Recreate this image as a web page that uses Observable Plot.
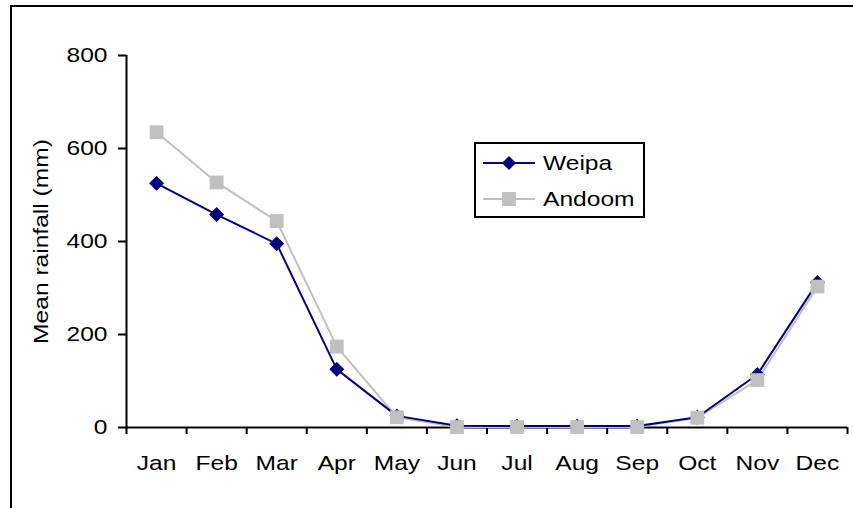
<!DOCTYPE html>
<html>
<head>
<meta charset="utf-8">
<script src="https://cdn.jsdelivr.net/npm/d3@7"></script>
<script src="https://cdn.jsdelivr.net/npm/@observablehq/plot@0.6"></script>
<style>
  html, body { margin: 0; padding: 0; background: #fff; }
  #wrap { position: relative; width: 853px; height: 508px; overflow: hidden; font-family: "Liberation Sans", Arial, sans-serif; }
  #frame { position: absolute; left: 10px; top: 5px; width: 900px; height: 600px; border-left: 2px solid #000; border-top: 2px solid #000; }
  #legend { position: absolute; left: 474px; top: 142px; width: 167px; height: 72px; border: 2px solid #000; background: #fff; }
  .row { position: absolute; left: 0; height: 24px; display: flex; align-items: center; }
  .row span { font-size: 21px; color: #000; margin-left: 0px; display: inline-block; transform: scaleX(1.17); transform-origin: left center; }
</style>
</head>
<body>
<div id="wrap">
  <div id="frame"></div>
  <div id="chart"></div>
  <div id="legend"></div>
</div>
<script>
const months = ["Jan","Feb","Mar","Apr","May","Jun","Jul","Aug","Sep","Oct","Nov","Dec"];
const weipa  = [525, 458, 395, 125, 25, 4, 3, 3, 3, 22, 114, 312];
const andoom = [635, 527, 444, 174, 22, 1, 1, 1, 1, 21, 102, 303];
const series = ["Weipa", "Andoom"];
const yTicks = [0, 200, 400, 600, 800];

const rows = [];
months.forEach((m, i) => {
  rows.push({month: m, i: i + 0.5, station: "Weipa", value: weipa[i]});
  rows.push({month: m, i: i + 0.5, station: "Andoom", value: andoom[i]});
});
const wRows = rows.filter(d => d.station === "Weipa");
const aRows = rows.filter(d => d.station === "Andoom");

const chart = Plot.plot({
  width: 853,
  height: 508,
  marginLeft: 126,
  marginRight: 6,
  marginTop: 55,
  marginBottom: 81,
  style: {fontFamily: "Liberation Sans, Arial, sans-serif", fontSize: "21px", background: "transparent", color: "#000"},
  x: {domain: [0, 12], range: [126, 847]},
  y: {domain: [0, 800]},
  marks: [
    Plot.axisY({ticks: yTicks, tickSize: 8, tickPadding: 11, strokeWidth: 2, fontSize: 21,
      label: "Mean rainfall (mm)", labelAnchor: "center", labelArrow: "none", labelOffset: 93}),
    Plot.axisX({ticks: d3.range(13), tickSize: 7, tickFormat: () => "", strokeWidth: 2, label: null}),
    Plot.axisX({ticks: months.map((m, i) => i + 0.5), tickSize: 0, tickPadding: 28,
      tickFormat: v => months[Math.round(v - 0.5)], fontSize: 21, label: null}),
    Plot.ruleX([0], {y1: 0, y2: 800, stroke: "#000", strokeWidth: 2}),
    Plot.ruleY([0], {stroke: "#000", strokeWidth: 2}),
    Plot.line(aRows, {x: "i", y: "value", stroke: "#c0c0c0", strokeWidth: 2}),
    Plot.line(wRows, {x: "i", y: "value", stroke: "#000080", strokeWidth: 2}),
    Plot.dot(wRows, {x: "i", y: "value", symbol: "square", rotate: 45, r: 5.4, fill: "#000080", stroke: "#000080", strokeWidth: 1}),
    Plot.dot(aRows, {x: "i", y: "value", symbol: "square", r: 7.8, fill: "#c0c0c0", stroke: "none"})
  ]
});
document.getElementById("chart").appendChild(chart);

// Widen glyphs horizontally to match the reference's stretched Arial
chart.querySelectorAll("text").forEach(t => {
  const len = t.getComputedTextLength();
  if (len > 0) {
    t.setAttribute("textLength", (len * 1.17).toFixed(1));
    t.setAttribute("lengthAdjust", "spacingAndGlyphs");
  }
});

// Legend
const legend = document.getElementById("legend");
const styles = {
  Weipa: {stroke: "#000080", fill: "#000080", sym: "diamond", top: 7},
  Andoom: {stroke: "#c0c0c0", fill: "#c0c0c0", sym: "square", top: 43}
};
series.forEach(name => {
  const s = styles[name];
  const row = document.createElement("div");
  row.className = "row";
  row.style.top = s.top + "px";
  const marker = s.sym === "diamond"
    ? `<rect x="21" y="7" width="10" height="10" fill="${s.fill}" transform="rotate(45 26 12)"/>`
    : `<rect x="19" y="5" width="14" height="14" fill="${s.fill}"/>`;
  row.innerHTML = `<svg width="60" height="24" style="margin-left:7px"><line x1="0" x2="52" y1="12" y2="12" stroke="${s.stroke}" stroke-width="2"/>${marker}</svg><span>${name}</span>`;
  legend.appendChild(row);
});
</script>
</body>
</html>
